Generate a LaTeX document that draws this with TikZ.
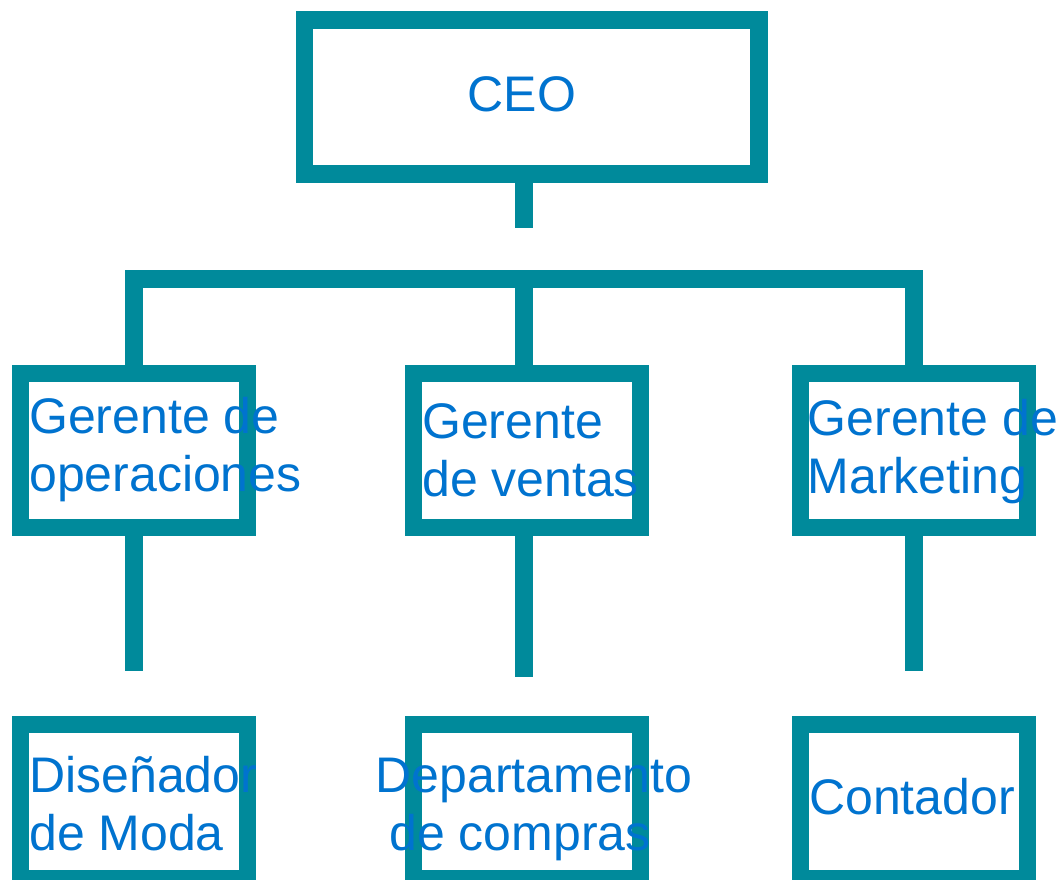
\documentclass[tikz,border=0pt]{standalone}
\usepackage{fontspec}
\setmainfont{Liberation Sans}
\usepackage{tikz}
\usetikzlibrary{positioning}

\definecolor{petroleo}{RGB}{0,138,155}
\definecolor{azultexto}{RGB}{0,115,207}

\tikzset{
  cargo/.style={draw=petroleo,line width=17.5pt,fill=white,inner sep=0pt,outer sep=0pt,
    minimum width=227pt,minimum height=154pt},
  linea/.style={draw=petroleo,line width=17.5pt,line join=miter},
  rotulo/.style={text=azultexto,inner sep=0pt,font=\fontsize{50}{58}\selectfont}
}

\begin{document}
\begin{tikzpicture}[x=1pt,y=-1pt]
\useasboundingbox (0,0) rectangle (1062,879);

% --- cajas ---
\node[cargo,minimum width=454.7pt] (ceo) at (531.7,97) {};
\node[cargo] (ops) at (133.8,450.5) {};
\node[cargo] (ven) at (527,450.5) {};
\node[cargo] (mkt) at (914,450.5) {};
\node[cargo] (dis) at (133.8,801.5) {};
\node[cargo] (dep) at (527,801.5) {};
\node[cargo] (con) at (914,801.5) {};

% --- conectores ---
\coordinate (ceoEnd) at (524,227.7);
\coordinate (bar) at (524,279);
\draw[linea] (ceo.south -| ceoEnd) -- (ceoEnd);
\draw[linea] (ops.north) |- (mkt.north |- bar) -- (mkt.north);
\draw[linea] (ven.north -| bar) -- (bar);

\coordinate (opsEnd) at (133.8,671.3);
\coordinate (venEnd) at (524,676.7);
\coordinate (mktEnd) at (914,671.3);
\draw[linea] (ops.south) -- (opsEnd);
\draw[linea] (ven.south -| venEnd) -- (venEnd);
\draw[linea] (mkt.south) -- (mktEnd);

% --- textos (base = ultima linea) ---
\node[rotulo] (ceoT) at (522,94) {CEO};
\node[rotulo,anchor=base west,align=left] (opsT) at (29,491.7) {Gerente de\\operaciones};
\node[rotulo,anchor=base west,align=left] (venT) at (422,496) {Gerente\\de ventas};
\node[rotulo,anchor=base west,align=left] (mktT) at (807.5,493) {Gerente de\\Marketing};
\node[rotulo,anchor=base west,align=left] (disT) at (29,850) {Diseñador\\de Moda};
\node[rotulo,anchor=base,align=center] (depT) at (534,850) {Departamento\\de compras\hspace*{28pt}};
\node[rotulo,anchor=base west] (conT) at (809,814) {Contador};

\end{tikzpicture}
\end{document}
